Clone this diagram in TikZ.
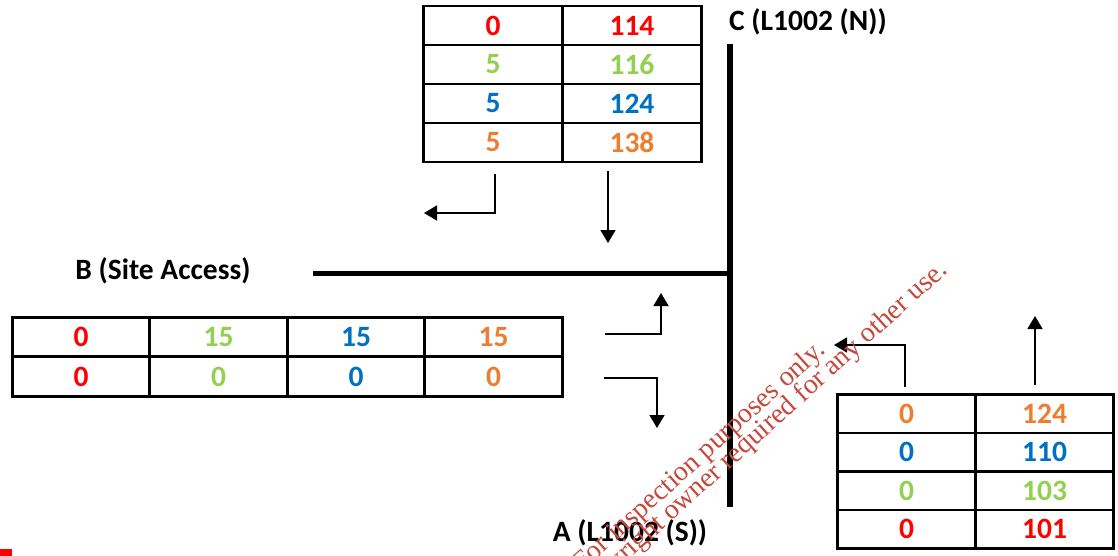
\documentclass[tikz,border=0pt]{standalone}
\usepackage{fontspec}
\setmainfont{Carlito}
\newfontfamily\wmfont{Liberation Serif}
\usetikzlibrary{arrows.meta}
\definecolor{cred}{HTML}{FF0000}
\definecolor{cgreen}{HTML}{92D050}
\definecolor{cblue}{HTML}{0070C0}
\definecolor{corange}{HTML}{ED7D31}
\definecolor{wmred}{RGB}{196,72,60}

\begin{document}
\begin{tikzpicture}[x=1pt,y=-1pt,
  cell/.style={draw, line width=2.8pt, inner sep=0pt,
    font=\fontsize{29.5}{31}\selectfont\bfseries},
  lbl/.style={inner sep=0pt, font=\fontsize{29.5}{31}\selectfont\bfseries},
  road/.style={line width=#1},
  flow/.style={line width=1.6pt, -{Triangle[length=13pt,width=15pt]}},
  wm/.style={inner sep=0pt, text=wmred, font=\wmfont\fontsize{28}{30}\selectfont}]
\useasboundingbox (0,0) rectangle (1118,556);

% junction legs
\coordinate (bw) at (313,273);
\coordinate (bj) at (730,273);
\coordinate (cn) at (730,44);
\coordinate (as) at (730,507);
\draw[road=5pt] (bw) -- (bj);
\draw[road=6.5pt] (cn) -- (as);

% leg names
\node[lbl, anchor=west] (lc) at (729,22) {C (L1002 (N))};
\node[lbl] (lb) at (163,271) {B (Site Access)};
\node[lbl] (la) at (630,533) {A (L1002 (S))};

% northern approach volumes
\begin{scope}[every node/.append style={minimum width=139pt, minimum height=39pt}]
\node[cell, text=cred]    (n11) at (493,25.5)  {0};
\node[cell, text=cred]    (n12) at (632,25.5)  {114};
\node[cell, text=cgreen]  (n21) at (493,64.5)  {5};
\node[cell, text=cgreen]  (n22) at (632,64.5)  {116};
\node[cell, text=cblue]   (n31) at (493,103.5) {5};
\node[cell, text=cblue]   (n32) at (632,103.5) {124};
\node[cell, text=corange] (n41) at (493,142.5) {5};
\node[cell, text=corange] (n42) at (632,142.5) {138};
\end{scope}

% site access volumes
\begin{scope}[every node/.append style={minimum width=137.5pt, minimum height=39.5pt}]
\node[cell, text=cred]    (w11) at (81,337)    {0};
\node[cell, text=cgreen]  (w12) at (218.5,337) {15};
\node[cell, text=cblue]   (w13) at (356,337)   {15};
\node[cell, text=corange] (w14) at (493.5,337) {15};
\node[cell, text=cred]    (w21) at (81,376.5)    {0};
\node[cell, text=cgreen]  (w22) at (218.5,376.5) {0};
\node[cell, text=cblue]   (w23) at (356,376.5)   {0};
\node[cell, text=corange] (w24) at (493.5,376.5) {0};
\end{scope}

% southern approach volumes
\begin{scope}[every node/.append style={minimum width=138pt, minimum height=38.5pt}]
\node[cell, text=corange] (s11) at (906.5,413.75)  {0};
\node[cell, text=corange] (s12) at (1044.5,413.75) {124};
\node[cell, text=cblue]   (s21) at (906.5,452.25)  {0};
\node[cell, text=cblue]   (s22) at (1044.5,452.25) {110};
\node[cell, text=cgreen]  (s31) at (906.5,490.75)  {0};
\node[cell, text=cgreen]  (s32) at (1044.5,490.75) {103};
\node[cell, text=cred]    (s41) at (906.5,529.25)  {0};
\node[cell, text=cred]    (s42) at (1044.5,529.25) {101};
\end{scope}

% turning movement arrows
\coordinate (nr0) at (495,174);
\coordinate (nr1) at (495,213);
\coordinate (nr2) at (424,213);
\draw[flow] (nr0) -- (nr1) -- (nr2);
\coordinate (nt0) at (608,171);
\coordinate (nt1) at (608,243);
\draw[flow] (nt0) -- (nt1);

\coordinate (wl0) at (605,334);
\coordinate (wl1) at (661,334);
\coordinate (wl2) at (661,293);
\draw[flow] (wl0) -- (wl1) -- (wl2);
\coordinate (wr0) at (604,378);
\coordinate (wr1) at (657,378);
\coordinate (wr2) at (657,428);
\draw[flow] (wr0) -- (wr1) -- (wr2);

\coordinate (sl0) at (905,387);
\coordinate (sl1) at (905,345);
\coordinate (sl2) at (834,345);
\draw[flow] (sl0) -- (sl1) -- (sl2);
\coordinate (st0) at (1035,385);
\coordinate (st1) at (1035,316);
\draw[flow] (st0) -- (st1);

% corner mark
\fill[cred] (0,549) rectangle (12,556);

% overprinted notice
\begin{scope}
\clip (0,0) rectangle (1118,556);
\node[wm, anchor=base east, rotate=42] (wm1) at (827,352) {For inspection purposes only.};
\node[wm, anchor=base east, rotate=42] (wm2) at (949,272) {Consent of copyright owner required for any other use.};
\end{scope}
\end{tikzpicture}
\end{document}
